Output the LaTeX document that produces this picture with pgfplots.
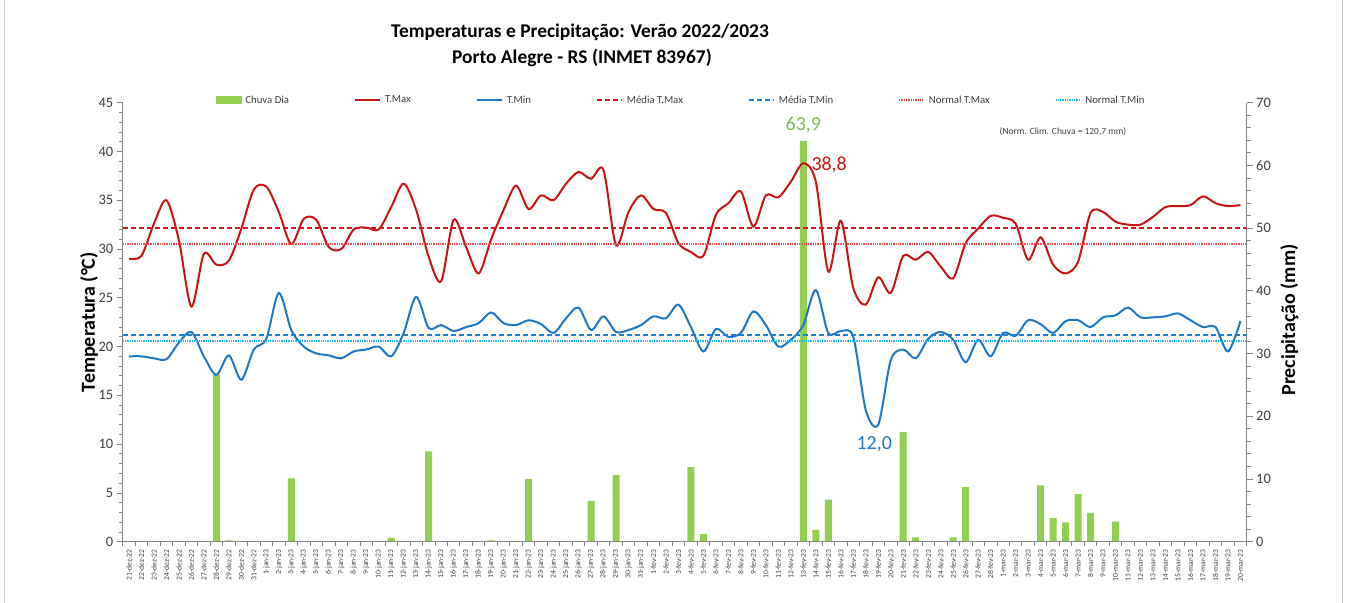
\documentclass[border=0pt]{standalone}
\usepackage{pgfplots}
\pgfplotsset{compat=1.18}
\usepackage{pgfplotstable}
\usepackage{fontspec}
\setmainfont{Carlito}
\definecolor{rain}{HTML}{92D050}
\definecolor{raintxt}{HTML}{7DBE4C}
\definecolor{tmax}{HTML}{C81414}
\definecolor{tmin}{HTML}{1E78C8}
\definecolor{medmax}{HTML}{D01818}
\definecolor{medmin}{HTML}{1C80D8}
\definecolor{normax}{HTML}{FF4B4B}
\definecolor{normin}{HTML}{20B8F0}
\definecolor{axgray}{HTML}{868686}
\definecolor{lbl}{HTML}{404040}

\pgfplotstableread{
i tmax tmin
0 29.0 19.0
1 29.3 19.0
2 32.6 18.8
3 35.0 18.7
4 30.9 20.4
5 24.1 21.5
6 29.5 19.0
7 28.4 17.1
8 28.8 19.1
9 32.1 16.6
10 36.1 19.7
11 36.4 20.8
12 33.8 25.5
13 30.5 21.7
14 33.1 20.0
15 33.0 19.3
16 30.2 19.1
17 30.0 18.8
18 32.0 19.5
19 32.2 19.7
20 32.0 20.0
21 34.3 19.0
22 36.7 21.4
23 34.0 25.1
24 29.2 21.9
25 26.7 22.2
26 33.0 21.6
27 30.2 22.0
28 27.5 22.4
29 31.0 23.5
30 34.0 22.4
31 36.5 22.2
32 34.1 22.7
33 35.5 22.3
34 35.0 21.4
35 36.7 22.9
36 37.9 24.0
37 37.2 21.7
38 38.1 23.1
39 30.4 21.5
40 33.8 21.7
41 35.5 22.2
42 34.1 23.1
43 33.7 22.9
44 30.6 24.3
45 29.7 22.0
46 29.3 19.5
47 33.5 21.8
48 34.7 21.0
49 35.9 21.4
50 32.3 23.6
51 35.5 22.2
52 35.3 20.0
53 36.9 20.7
54 38.8 22.2
55 36.9 25.8
56 27.7 21.4
57 32.9 21.6
58 26.0 21.0
59 24.3 13.5
60 27.1 12.0
61 25.5 18.6
62 29.3 19.7
63 28.9 18.8
64 29.7 20.8
65 28.2 21.5
66 27.0 20.7
67 30.6 18.4
68 32.1 20.7
69 33.4 19.0
70 33.2 21.4
71 32.6 21.1
72 28.9 22.7
73 31.2 22.3
74 28.4 21.4
75 27.5 22.6
76 28.7 22.7
77 33.7 22.0
78 33.8 23.0
79 32.8 23.2
80 32.5 24.0
81 32.5 23.0
82 33.3 23.0
83 34.3 23.1
84 34.4 23.4
85 34.5 22.7
86 35.4 22.0
87 34.7 22.0
88 34.4 19.5
89 34.5 22.6
}\temps

\pgfplotstableread{
i rain
7 26.6
8 0.2
13 10.1
21 0.6
24 14.4
29 0.2
32 10.0
37 6.5
39 10.6
45 11.9
46 1.2
47 0.1
54 63.9
55 1.9
56 6.7
62 17.5
63 0.7
66 0.7
67 8.7
73 9.0
74 3.8
75 3.1
76 7.6
77 4.6
79 3.2
}\rain

\begin{document}
\begin{tikzpicture}[x=1bp,y=1bp]
\path[use as bounding box] (0,0) rectangle (1349,603);
\draw[gray!45, line width=1bp] (4,-2) -- (4,605);
\draw[gray!45, line width=1bp] (1342.5,-2) -- (1342.5,605);
\node[font=\bfseries\fontsize{19.5}{21}\selectfont] at (580,571) {Temperaturas e Precipitação: Verão 2022/2023};
\node[font=\bfseries\fontsize{19.5}{21}\selectfont] at (582,545) {Porto Alegre - RS (INMET 83967)};
\node[font=\fontsize{9.5}{11}\selectfont, text=lbl] at (1063,471) {(Norm. Clim. Chuva = 120,7 mm)};

\pgfplotsset{
  common/.style={
    at={(122.7bp,61.3bp)}, anchor=south west, scale only axis,
    width=1124bp, height=439bp, xmin=-0.5, xmax=89.5,
    /pgf/number format/assume math mode=true,
    tick label style={font=\fontsize{14.5}{16}\selectfont, text=lbl},
    axis line style={axgray, line width=0.8bp},
    every tick/.style={axgray, line width=0.8bp},
    tick align=outside,
    major tick length=6bp, minor tick length=4bp,
  }
}

\begin{axis}[common,
  ymin=0, ymax=70,
  axis y line*=right, axis x line=none,
  ytick={0,10,...,70}, minor y tick num=4,
  ylabel={Precipitação (mm)},
  ylabel style={at={(axis description cs:1.038,0.505)}, anchor=center, font=\bfseries\fontsize{20}{22}\selectfont},
]
\addplot[ybar, bar width=7bp, fill=rain, draw=none] table[x=i, y=rain] {\rain};
\node[anchor=south, inner sep=0pt, yshift=8bp, text=raintxt, font=\fontsize{20}{22}\selectfont] at (axis cs:54,63.9) {63,9};
\end{axis}

\begin{axis}[common,
  ymin=0, ymax=45,
  axis y line*=left, axis x line*=bottom,
  ytick={0,5,...,45}, minor y tick num=4,
  xtick={0,...,89},
  major x tick style={draw=none},
  minor xtick={-0.5,0.5,...,89.5},
  x tick label style={rotate=90, anchor=east, font=\fontsize{7.6}{8}\selectfont, text=lbl, inner sep=1.5bp},
  xticklabels={21-dez-22,22-dez-22,23-dez-22,24-dez-22,25-dez-22,26-dez-22,27-dez-22,28-dez-22,29-dez-22,30-dez-22,31-dez-22,
    1-jan-23,2-jan-23,3-jan-23,4-jan-23,5-jan-23,6-jan-23,7-jan-23,8-jan-23,9-jan-23,10-jan-23,11-jan-23,12-jan-23,13-jan-23,14-jan-23,15-jan-23,16-jan-23,17-jan-23,18-jan-23,19-jan-23,20-jan-23,21-jan-23,22-jan-23,23-jan-23,24-jan-23,25-jan-23,26-jan-23,27-jan-23,28-jan-23,29-jan-23,30-jan-23,31-jan-23,
    1-fev-23,2-fev-23,3-fev-23,4-fev-23,5-fev-23,6-fev-23,7-fev-23,8-fev-23,9-fev-23,10-fev-23,11-fev-23,12-fev-23,13-fev-23,14-fev-23,15-fev-23,16-fev-23,17-fev-23,18-fev-23,19-fev-23,20-fev-23,21-fev-23,22-fev-23,23-fev-23,24-fev-23,25-fev-23,26-fev-23,27-fev-23,28-fev-23,
    1-mar-23,2-mar-23,3-mar-23,4-mar-23,5-mar-23,6-mar-23,7-mar-23,8-mar-23,9-mar-23,10-mar-23,11-mar-23,12-mar-23,13-mar-23,14-mar-23,15-mar-23,16-mar-23,17-mar-23,18-mar-23,19-mar-23,20-mar-23},
  ylabel={Temperatura (°C)},
  ylabel style={at={(axis description cs:-0.030,0.5)}, anchor=center, font=\bfseries\fontsize{20}{22}\selectfont},
  legend columns=7,
  legend style={at={(0.497,1.006)}, anchor=center, draw=none, fill=none,
    font=\fontsize{10.8}{12}\selectfont, text=lbl,
    /tikz/every even column/.append style={column sep=63bp},
    /tikz/every odd column/.append style={column sep=2bp}},
  legend image code/.code={\draw[#1] (0bp,0bp) -- (25bp,0bp);},
]
\addlegendimage{legend image code/.code={\fill[rain] (0bp,-3.5bp) rectangle (25bp,3.5bp);}}
\addlegendentry{Chuva Dia}
\addplot[draw=tmax, line width=2bp, smooth, tension=0.5] table[x=i, y=tmax] {\temps};
\addlegendentry{T.Max}
\addplot[draw=tmin, line width=2bp, smooth, tension=0.5] table[x=i, y=tmin] {\temps};
\addlegendentry{T.Min}
\addplot[draw=medmax, mark=none, line width=1.9bp, dash pattern=on 5bp off 3bp] coordinates {(-0.5,32.2) (89.5,32.2)};
\addlegendentry{Média T.Max}
\addplot[draw=medmin, mark=none, line width=1.9bp, dash pattern=on 5bp off 3bp] coordinates {(-0.5,21.15) (89.5,21.15)};
\addlegendentry{Média T.Min}
\addplot[draw=normax, mark=none, line width=1.6bp, dash pattern=on 1.3bp off 1bp] coordinates {(-0.5,30.5) (89.5,30.5)};
\addlegendentry{Normal T.Max}
\addplot[draw=normin, mark=none, line width=1.6bp, dash pattern=on 1.3bp off 1bp] coordinates {(-0.5,20.6) (89.5,20.6)};
\addlegendentry{Normal T.Min}
\node[anchor=west, inner sep=0pt, xshift=8bp, yshift=-2bp, text=tmax, font=\fontsize{20}{22}\selectfont] at (axis cs:54,38.8) {38,8};
\node[anchor=north, inner sep=0pt, yshift=-12bp, xshift=-4bp, text=tmin, font=\fontsize{20}{22}\selectfont] at (axis cs:60,12.0) {12,0};
\end{axis}
\end{tikzpicture}
\end{document}
